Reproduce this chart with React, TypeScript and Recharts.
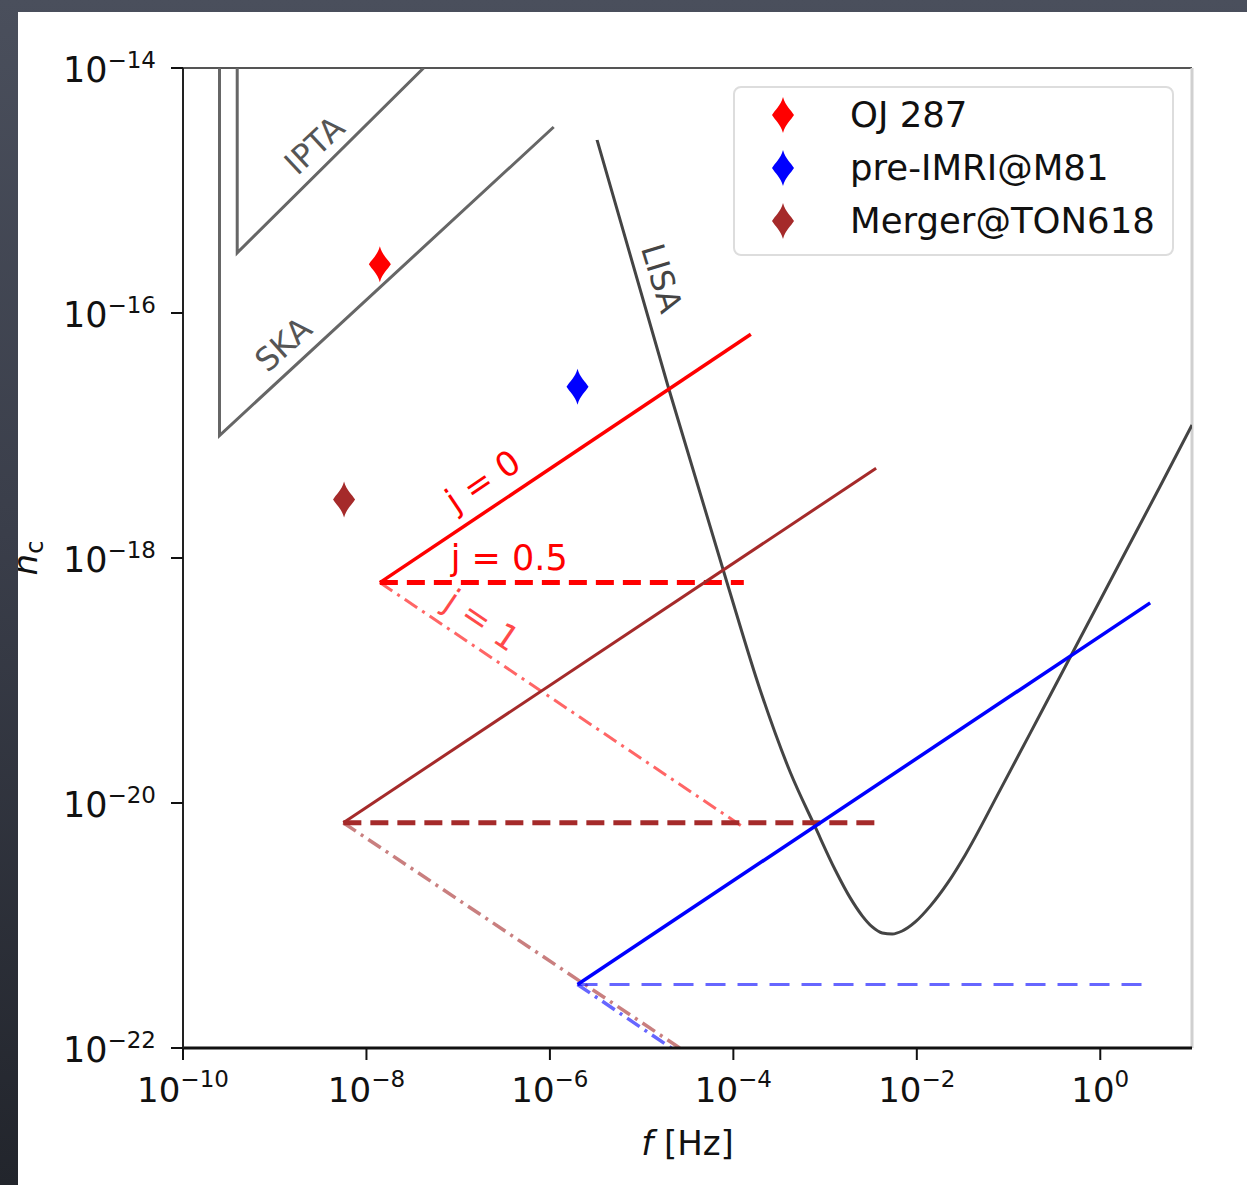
import React from 'react';
import {
  ComposedChart,
  Line,
  Scatter,
  XAxis,
  YAxis,
  ReferenceLine,
  ReferenceDot,
  Legend,
  Label,
} from 'recharts';

const FONT = '"DejaVu Sans", "Liberation Sans", sans-serif';

// Axis ticks: frequency f [Hz] and characteristic strain h_c
const xTicks = [1e-10, 1e-8, 1e-6, 1e-4, 1e-2, 1];
const yTicks = [1e-22, 1e-20, 1e-18, 1e-16, 1e-14];

// Pulsar-timing sensitivity wedges
const iptaCurve = [
  { f: 3.9e-10, h: 1e-14 },
  { f: 3.9e-10, h: 3.1e-16 },
  { f: 4.2e-8, h: 1e-14 },
];
const skaCurve = [
  { f: 2.5e-10, h: 1e-14 },
  { f: 2.5e-10, h: 1e-17 },
  { f: 1.1e-6, h: 3.3e-15 },
];

// LISA sensitivity curve
const lisaCurve = [
  { f: 3.27e-6, h: 2.58e-15 },
  { f: 1.95e-5, h: 2.49e-17 },
  { f: 8.55e-5, h: 6.25e-19 },
  { f: 1.96e-4, h: 8.36e-20 },
  { f: 4.16e-4, h: 1.79e-20 },
  { f: 7.8e-4, h: 6.37e-21 },
  { f: 1.29e-3, h: 2.84e-21 },
  { f: 1.88e-3, h: 1.68e-21 },
  { f: 2.54e-3, h: 1.2e-21 },
  { f: 3.27e-3, h: 9.73e-22 },
  { f: 4.2e-3, h: 8.69e-22 },
  { f: 5.4e-3, h: 8.53e-22 },
  { f: 6.93e-3, h: 9.02e-22 },
  { f: 9.62e-3, h: 1.07e-21 },
  { f: 1.4e-2, h: 1.44e-21 },
  { f: 2.2e-2, h: 2.26e-21 },
  { f: 3.37e-2, h: 3.77e-21 },
  { f: 8.11e-2, h: 1.28e-20 },
  { f: 0.222, h: 5.33e-20 },
  { f: 0.605, h: 2.22e-19 },
  { f: 1.65, h: 9.27e-19 },
  { f: 4.51, h: 3.87e-18 },
  { f: 10, h: 1.22e-17 },
];

// OJ 287 tracks for j = 0, 0.5, 1
const ojJ0 = [
  { f: 1.4e-8, h: 6.3e-19 },
  { f: 1.55e-4, h: 6.7e-17 },
];
const ojJ05 = [
  { f: 1.4e-8, h: 6.3e-19 },
  { f: 1.3e-4, h: 6.3e-19 },
];
const ojJ1 = [
  { f: 1.4e-8, h: 6.3e-19 },
  { f: 1.35e-4, h: 6.2e-21 },
];

// Merger@TON618 tracks
const tonJ0 = [
  { f: 5.6e-9, h: 6.9e-21 },
  { f: 3.6e-3, h: 5.4e-18 },
];
const tonJ05 = [
  { f: 5.6e-9, h: 6.9e-21 },
  { f: 3.6e-3, h: 6.9e-21 },
];
const tonJ1 = [
  { f: 5.6e-9, h: 6.9e-21 },
  { f: 2.6e-5, h: 1e-22 },
];

// pre-IMRI@M81 tracks
const m81J0 = [
  { f: 2.0e-6, h: 3.3e-22 },
  { f: 3.5, h: 4.3e-19 },
];
const m81J05 = [
  { f: 2.0e-6, h: 3.3e-22 },
  { f: 2.9, h: 3.3e-22 },
];
const m81J1 = [
  { f: 2.0e-6, h: 3.3e-22 },
  { f: 2.1e-5, h: 1e-22 },
];

// Source markers
const sources = [
  { name: 'OJ 287', color: '#ff0000', point: [{ f: 1.4e-8, h: 2.5e-16 }] },
  { name: 'pre-IMRI@M81', color: '#0000ff', point: [{ f: 2.0e-6, h: 2.5e-17 }] },
  { name: 'Merger@TON618', color: '#a52a2a', point: [{ f: 5.7e-9, h: 3.0e-18 }] },
];

// In-plot text labels, placed at data coordinates
const annotations = [
  { text: 'IPTA', f: 2.69e-9, h: 2.35e-15, angle: -43, color: '#555555', size: 32 },
  { text: 'SKA', f: 1.23e-9, h: 5.58e-17, angle: -42, color: '#555555', size: 32 },
  { text: 'LISA', f: 1.67e-5, h: 1.93e-16, angle: 73, color: '#444444', size: 32 },
  { text: 'j = 0', f: 1.85e-7, h: 4.3e-18, angle: -34, color: '#ff0000', size: 34 },
  { text: 'j = 0.5', f: 3.6e-7, h: 1.02e-18, angle: 0, color: '#ff0000', size: 35 },
  { text: 'j = 1', f: 1.82e-7, h: 3.12e-19, angle: 34, color: '#ff4a4a', size: 34 },
];

const DIAMOND =
  'M0,-18 C2.5,-9 8,-5 11,0 C8,5 2.5,9 0,18 C-2.5,9 -8,5 -11,0 C-8,-5 -2.5,-9 0,-18 Z';

const exponentText = (v: number) => {
  const e = Math.round(Math.log10(v));
  return e < 0 ? `\u2212${-e}` : `${e}`;
};

const XTick = (props: any) => {
  const { x, y, payload } = props;
  return (
    <text x={x} y={y + 40} textAnchor="middle" fontFamily={FONT} fill="#111">
      <tspan fontSize={34}>10</tspan>
      <tspan fontSize={23} dy={-15}>
        {exponentText(payload.value)}
      </tspan>
    </text>
  );
};

const YTick = (props: any) => {
  const { x, y, payload } = props;
  return (
    <text x={x - 13} y={y + 14} textAnchor="end" fontFamily={FONT} fill="#111">
      <tspan fontSize={35}>10</tspan>
      <tspan fontSize={23} dy={-14}>
        {exponentText(payload.value)}
      </tspan>
    </text>
  );
};

const YAxisTitle = (props: any) => {
  const vb = props.viewBox;
  const cx = vb.x - 46;
  const cy = vb.y + vb.height / 2;
  return (
    <text
      x={cx}
      y={cy}
      transform={`rotate(-90, ${cx}, ${cy})`}
      textAnchor="middle"
      fontFamily={FONT}
      fill="#111"
    >
      <tspan fontSize={34} fontStyle="italic">h</tspan>
      <tspan fontSize={24} dy={6}>c</tspan>
    </text>
  );
};

const XAxisTitle = (props: any) => {
  const vb = props.viewBox;
  const cx = vb.x + vb.width / 2;
  return (
    <text x={cx} y={vb.y + 107} textAnchor="middle" fontFamily={FONT} fontSize={34} fill="#111">
      <tspan fontStyle="italic">f</tspan>
      <tspan> [Hz]</tspan>
    </text>
  );
};

const makeAnnotation = (a: (typeof annotations)[number]) => (props: any) => {
  const vb = props.viewBox;
  const x = vb.x + (vb.width || 0) / 2;
  const y = vb.y + (vb.height || 0) / 2;
  return (
    <text
      x={x}
      y={y}
      dy="0.36em"
      transform={`rotate(${a.angle}, ${x}, ${y})`}
      textAnchor="middle"
      fontFamily={FONT}
      fontSize={a.size}
      fill={a.color}
    >
      {a.text}
    </text>
  );
};

const diamondShape = (color: string) => (props: any) => (
  <path transform={`translate(${props.cx},${props.cy})`} d={DIAMOND} fill={color} />
);

const renderLegend = () => (
  <div
    style={{
      width: 441,
      height: 170,
      boxSizing: 'border-box',
      border: '2px solid #dddddd',
      borderRadius: 8,
      background: 'rgba(255,255,255,0.85)',
      fontFamily: FONT,
      fontSize: 35.5,
      color: '#111',
      position: 'relative',
    }}
  >
    {sources.map((s, i) => (
      <div
        key={s.name}
        style={{
          position: 'absolute',
          left: -2,
          top: 29 + i * 53 - 26 - 2,
          height: 52,
          display: 'flex',
          alignItems: 'center',
          whiteSpace: 'nowrap',
        }}
      >
        <svg width={100} height={52} style={{ display: 'block' }}>
          <path transform="translate(50,26)" d={DIAMOND} fill={s.color} />
        </svg>
        <span style={{ marginLeft: 17, lineHeight: '52px' }}>{s.name}</span>
      </div>
    ))}
  </div>
);

const lineCommon = {
  dataKey: 'h',
  dot: false,
  activeDot: false,
  isAnimationActive: false,
  legendType: 'none' as const,
  type: 'linear' as const,
};

export default function App() {
  return (
    <div
      style={{
        position: 'absolute',
        left: 0,
        top: 0,
        width: 1247,
        height: 1185,
        background: 'linear-gradient(180deg, #4a4f5c 0%, #3a3e4a 45%, #22252c 100%)',
        overflow: 'hidden',
      }}
    >
      <div
        style={{
          position: 'absolute',
          left: 18,
          top: 12,
          width: 1229,
          height: 1173,
          background: '#ffffff',
          overflow: 'hidden',
        }}
      >
        <div style={{ position: 'absolute', left: -18, top: -12 }}>
          <ComposedChart
            width={1247}
            height={1185}
            margin={{ top: 68, right: 55, bottom: 77, left: 83 }}
          >
            <XAxis
              type="number"
              dataKey="f"
              scale="log"
              domain={[1e-10, 10]}
              allowDataOverflow
              ticks={xTicks}
              interval={0}
              height={60}
              tickSize={12}
              tick={<XTick />}
              axisLine={{ stroke: '#111', strokeWidth: 3 }}
              tickLine={{ stroke: '#111', strokeWidth: 2 }}
            >
              <Label content={<XAxisTitle />} />
            </XAxis>
            <YAxis
              type="number"
              dataKey="h"
              scale="log"
              domain={[1e-22, 1e-14]}
              allowDataOverflow
              ticks={yTicks}
              interval={0}
              width={100}
              tickSize={12}
              tick={<YTick />}
              axisLine={{ stroke: '#222', strokeWidth: 2 }}
              tickLine={{ stroke: '#111', strokeWidth: 2 }}
            >
              <Label content={<YAxisTitle />} />
            </YAxis>

            <ReferenceLine y={1e-14} stroke="#555" strokeWidth={2} />
            <ReferenceLine x={10} stroke="#d0d0d0" strokeWidth={3} />

            <Line {...lineCommon} data={skaCurve} stroke="#666" strokeWidth={3} />
            <Line {...lineCommon} data={iptaCurve} stroke="#666" strokeWidth={3} />
            <Line {...lineCommon} data={lisaCurve} type="monotone" stroke="#444" strokeWidth={3} />

            <Line {...lineCommon} data={ojJ0} stroke="#ff0000" strokeWidth={3.5} />
            <Line {...lineCommon} data={ojJ05} stroke="#ff0000" strokeWidth={5} strokeDasharray="18 9" />
            <Line
              {...lineCommon}
              data={ojJ1}
              stroke="#ff0000"
              strokeOpacity={0.6}
              strokeWidth={3}
              strokeDasharray="15 6 3 6"
            />

            <Line {...lineCommon} data={tonJ0} stroke="#a52a2a" strokeWidth={3} />
            <Line {...lineCommon} data={tonJ05} stroke="#a52a2a" strokeWidth={5} strokeDasharray="18 9" />
            <Line
              {...lineCommon}
              data={tonJ1}
              stroke="#a52a2a"
              strokeOpacity={0.6}
              strokeWidth={3.5}
              strokeDasharray="15 6 3 6"
            />

            <Line {...lineCommon} data={m81J0} stroke="#0000ff" strokeWidth={3.5} />
            <Line
              {...lineCommon}
              data={m81J05}
              stroke="#0000ff"
              strokeOpacity={0.6}
              strokeWidth={3}
              strokeDasharray="20 12"
            />
            <Line
              {...lineCommon}
              data={m81J1}
              stroke="#0000ff"
              strokeOpacity={0.6}
              strokeWidth={3.5}
              strokeDasharray="15 6 3 6"
            />

            {sources.map((s) => (
              <Scatter
                key={s.name}
                name={s.name}
                data={s.point}
                dataKey="h"
                fill={s.color}
                shape={diamondShape(s.color)}
                isAnimationActive={false}
              />
            ))}

            {annotations.map((a) => (
              <ReferenceDot
                key={a.text}
                x={a.f}
                y={a.h}
                r={0}
                fill="none"
                stroke="none"
                label={makeAnnotation(a)}
              />
            ))}

            <Legend
              content={renderLegend}
              layout="vertical"
              align="center"
              verticalAlign="middle"
              wrapperStyle={{ left: 733, top: 86, width: 441, height: 170 }}
            />
          </ComposedChart>
        </div>
      </div>
    </div>
  );
}
